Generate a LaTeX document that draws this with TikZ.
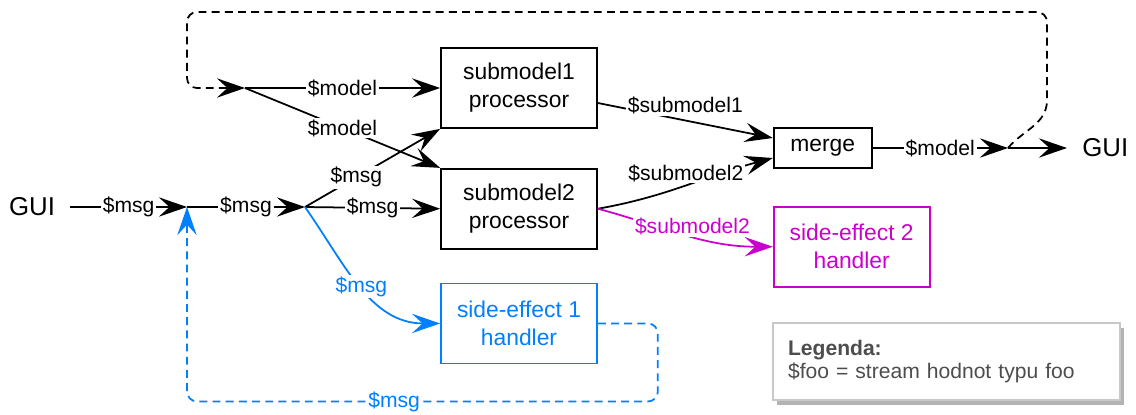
\documentclass[tikz,border=0pt]{standalone}
\usepackage{fontspec}
\setmainfont{Liberation Sans}
\usepackage{xcolor}
\usepackage{tikz}
\usetikzlibrary{arrows.meta, positioning, calc, shadows}

\definecolor{fxblue}{HTML}{007FFF}
\definecolor{fxpink}{HTML}{CC00CC}
\definecolor{legendtext}{HTML}{4D4D4D}
\definecolor{legendline}{HTML}{C8C8C8}
\definecolor{legendshadow}{HTML}{B3B3B3}

\begin{document}
\begin{tikzpicture}[
    x=0.02cm, y=0.02cm,
    node distance=0.78cm and 3.5cm,
    >={Stealth[length=16pt, width=11pt, inset=6pt]},
    proc/.style={rectangle, draw, line width=1pt, minimum width=3.12cm, minimum height=1.6cm, align=center, font=\fontsize{13}{16}\selectfont},
    arrow/.style={->, line width=1pt},
    dasharrow/.style={arrow, dash pattern=on 4.5pt off 3pt},
    lbl/.style={fill=white, inner sep=1pt, font=\fontsize{12}{14}\selectfont},
    gui/.style={inner xsep=0.3cm, font=\fontsize{14.7}{17}\selectfont},
    legend/.style={rectangle, draw=legendline, line width=1pt, fill=white, text=legendtext, align=left, text width=6.34cm, inner xsep=0.3cm, minimum height=1.54cm, font=\fontsize{12}{13.5}\selectfont}
]
\useasboundingbox (0,0) rectangle (1136,-414);

% GUI and junctions
\node[gui] (gui_in) at (32,-207) {GUI};
\coordinate (j1) at (187,-207);
\coordinate (j2) at (305,-207);
\coordinate (j3) at (245,-88);
\coordinate (j4) at (1008,-148);

% Processors
\node[proc] (sub1) at (519,-88) {submodel1\\processor};
\node[proc, below=of sub1] (sub2) {submodel2\\processor};
\node[proc, minimum width=1.96cm, minimum height=0.8cm, right=3.5cm of sub1, yshift=-1.2cm] (merge) {merge};
\node[gui, right=1.18cm of j4] (gui_out) {GUI};

% Side-effect handlers
\node[proc, draw=fxblue, text=fxblue, below=0.66cm of sub2] (se1) {side-effect 1\\handler};
\node[proc, draw=fxpink, text=fxpink, right=3.5cm of sub2, yshift=-0.76cm] (se2) {side-effect 2\\handler};

% Legend
\node[legend, drop shadow={shadow xshift=0.08cm, shadow yshift=-0.1cm, fill=legendshadow, opacity=1}] (legend) at (946.5,-361.5) {\textbf{Legenda:}\\\$foo = stream hodnot typu foo};

% Arrows - messages
\draw[arrow] (gui_in) -- node[lbl]{\$msg} (j1);
\draw[arrow] (j1) -- node[lbl]{\$msg} (j2);
\draw[arrow] (j2) -- node[lbl]{\$msg} (sub2.west);
\draw[arrow] (j2) -- node[lbl, pos=0.38]{\$msg} (sub1.south west);

% Arrows - model
\draw[arrow] (j3) -- node[lbl]{\$model} (sub1.west);
\draw[arrow] (j3) -- node[lbl]{\$model} (sub2.north west);

% Arrows - merge
\draw[arrow] ($(sub1.east)+(0,-0.3cm)$) -- node[lbl, pos=0.5, yshift=0.3cm]{\$submodel1} ($(merge.west)+(0,0.2cm)$);
\draw[arrow] (sub2.east) to[out=10, in=195] node[lbl, pos=0.5, yshift=0.25cm]{\$submodel2} ($(merge.west)+(0,-0.2cm)$);
\draw[arrow] (merge) -- node[lbl]{\$model} (j4);
\draw[arrow] (j4) -- (gui_out);

% Arrows - side effects
\draw[arrow, fxpink] (sub2.east) to[out=-15, in=180] node[lbl, pos=0.55, yshift=0.2cm]{\$submodel2} (se2.west);
\draw[arrow, fxblue] (j2) to[out=-55, in=180] node[lbl]{\$msg} (se1.west);

% Feedback loops
\draw[dasharrow, fxblue] (se1.east) [rounded corners=0.2cm] -| ++(60,-78) -| node[lbl, pos=0.28]{\$msg} (j1);
\draw[dasharrow] (j4) to[out=50, in=-90] ++(39,48) [rounded corners=0.2cm] |- ++(-860,88) |- (j3);

\end{tikzpicture}
\end{document}
